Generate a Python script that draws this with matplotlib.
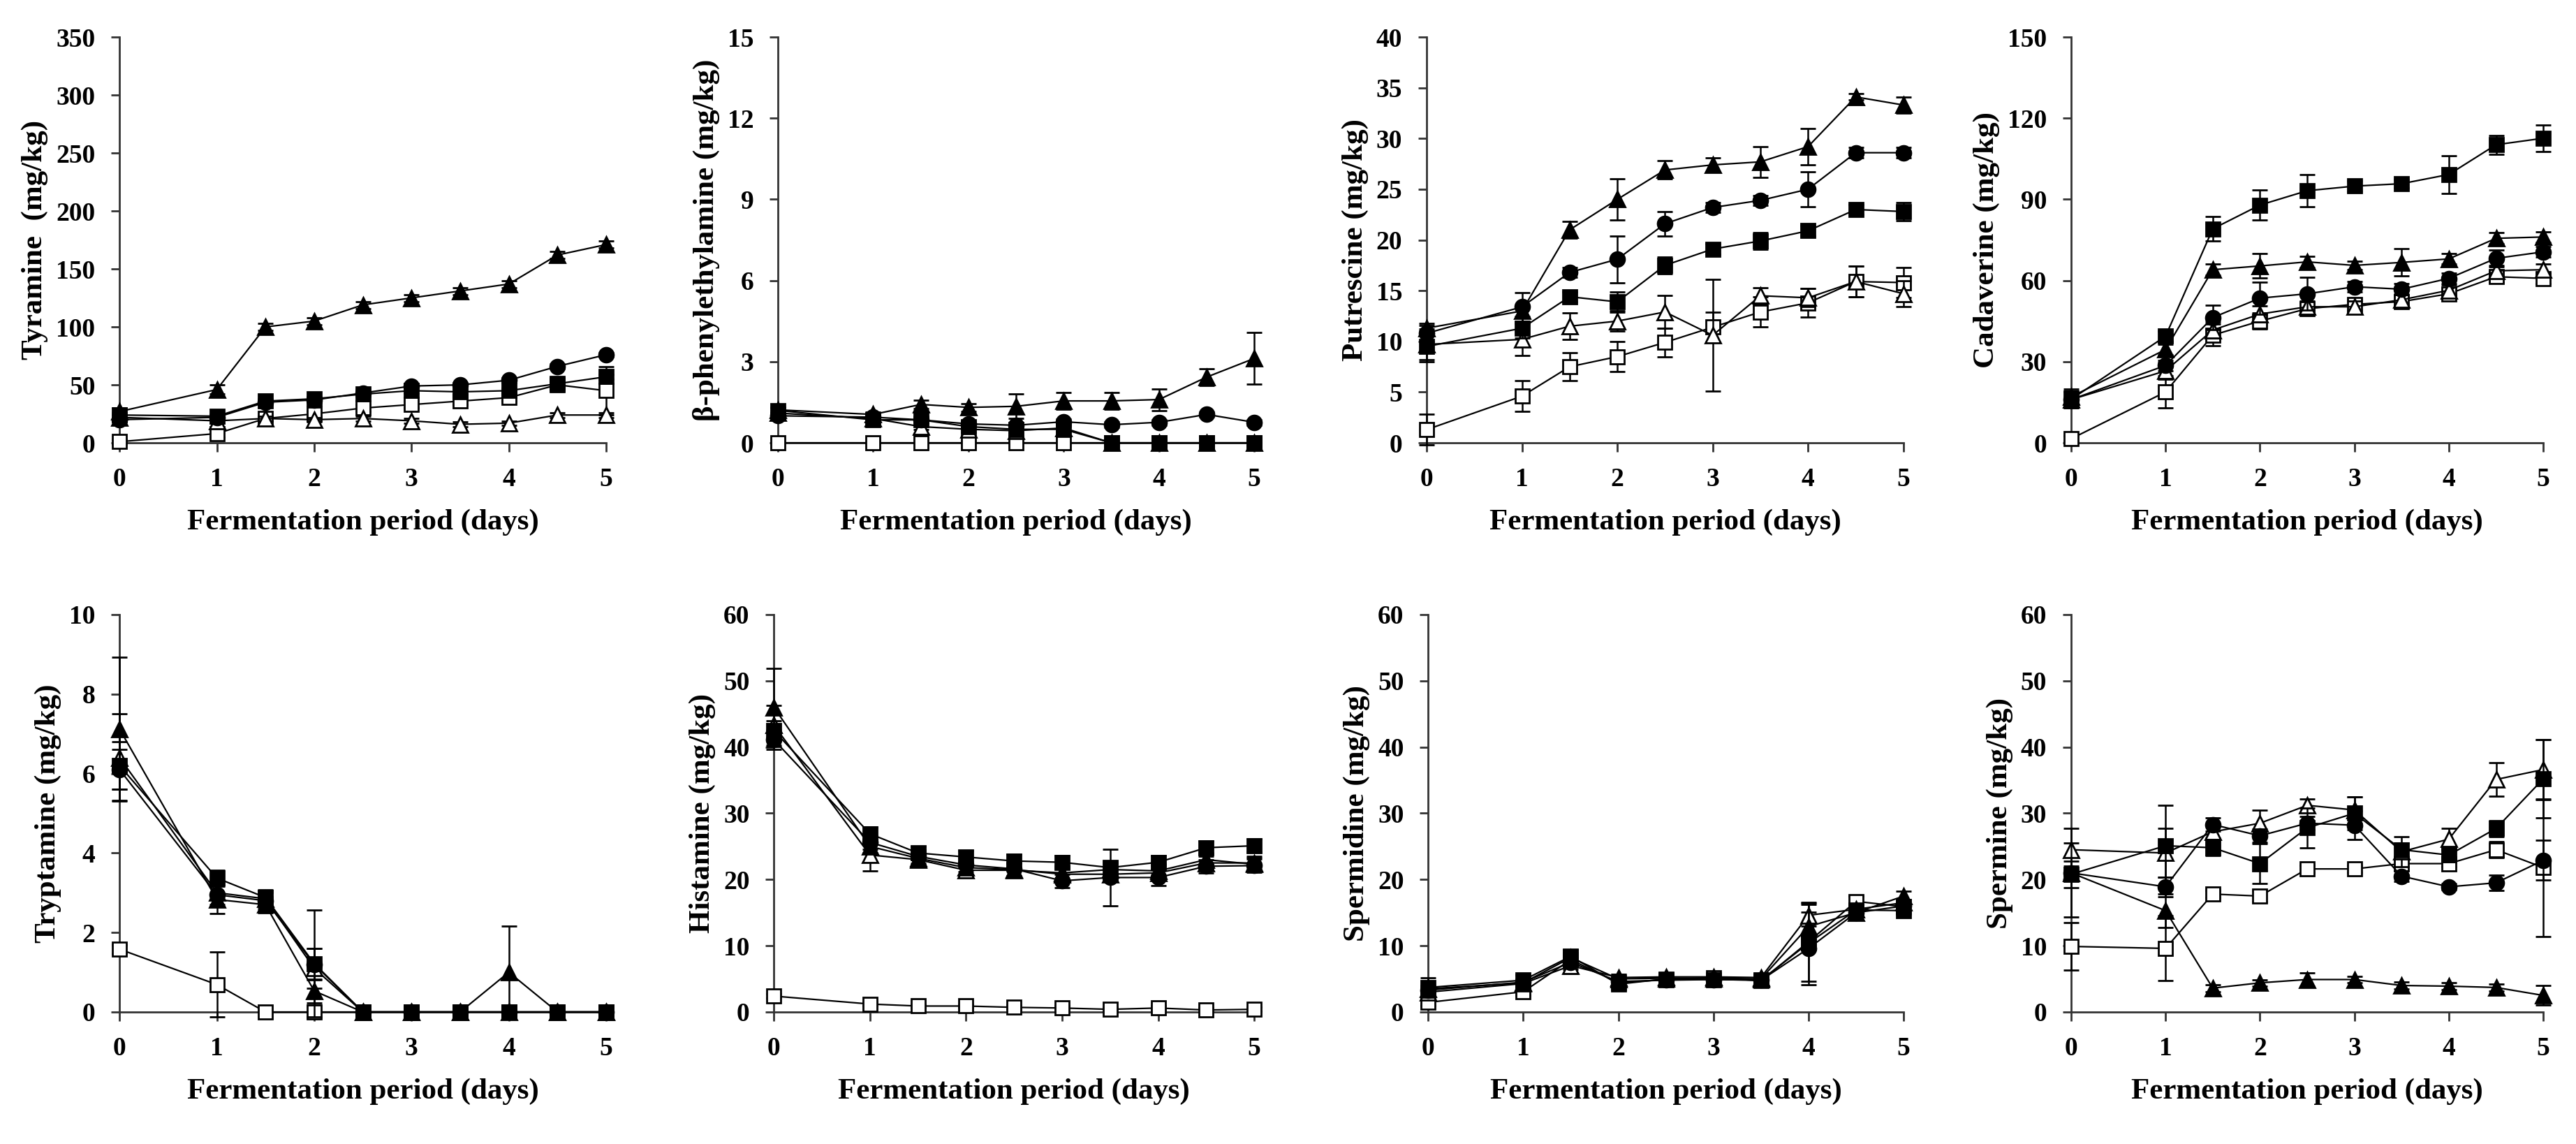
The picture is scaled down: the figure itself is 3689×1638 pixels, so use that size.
import matplotlib
matplotlib.use("Agg")
import matplotlib.pyplot as plt

plt.rcParams['font.family'] = ['Liberation Serif', 'DejaVu Serif']
plt.rcParams['font.weight'] = 'bold'

days = [0, 1, 1.5, 2, 2.5, 3, 3.5, 4, 4.5, 5]

# series order in every panel: open square, open triangle, circle, filled square, filled triangle
tyramine = [
    [1, 8, 21, 25, 30, 33, 36, 39, 50, 45],
    [22, 19, 21, 20, 21, 19, 16, 17, 24, 24],
    [20, 22, 35, 37, 43, 49, 50, 54, 66, 76],
    [24, 23, 36, 38, 42, 45, 44, 45, 51, 57],
    [27, 46, 100, 105, 119, 125, 131, 137, 162, 171],
]
tyramine_sd = [
    [2, 3, 2, 2, 3, 3, 3, 3, 4, 21],
    [2, 2, 2, 2, 2, 2, 2, 2, 2, 2],
    [2, 2, 2, 2, 2, 2, 2, 2, 2, 2],
    [2, 2, 2, 2, 2, 2, 2, 2, 2, 2],
    [3, 4, 3, 3, 3, 3, 3, 3, 3, 3],
]

phenylethylamine = [
    [0, 0, 0, 0, 0, 0, 0, 0, 0, 0],
    [1.1, 0.9, 0.6, 0.5, 0.45, 0.55, 0, 0, 0, 0],
    [1.0, 0.95, 0.85, 0.7, 0.65, 0.78, 0.67, 0.76, 1.05, 0.76],
    [1.2, 0.85, 0.85, 0.6, 0.5, 0.5, 0, 0, 0, 0],
    [1.22, 1.05, 1.42, 1.31, 1.35, 1.55, 1.55, 1.6, 2.43, 3.12],
]
phenylethylamine_sd = [
    [0, 0, 0, 0, 0, 0, 0, 0, 0, 0],
    [0.1, 0.1, 0.1, 0.1, 0.1, 0.1, 0, 0, 0, 0],
    [0.1, 0.1, 0.1, 0.1, 0.1, 0.1, 0.1, 0.1, 0.1, 0.1],
    [0.1, 0.1, 0.1, 0.1, 0.1, 0.1, 0, 0, 0, 0],
    [0.1, 0.1, 0.15, 0.15, 0.45, 0.3, 0.3, 0.4, 0.3, 0.95],
]

putrescine = [
    [1.3, 4.6, 7.5, 8.5, 9.9, 11.4, 12.9, 13.8, 15.9, 15.8],
    [9.7, 10.2, 11.5, 12.0, 12.9, 10.6, 14.5, 14.3, 15.9, 14.7],
    [10.8, 13.4, 16.8, 18.1, 21.6, 23.2, 23.9, 25.0, 28.6, 28.6],
    [9.5, 11.3, 14.4, 13.9, 17.5, 19.1, 19.9, 20.9, 23.0, 22.8],
    [11.3, 13.0, 21.0, 24.0, 26.9, 27.4, 27.7, 29.2, 34.1, 33.3],
]
putrescine_sd = [
    [1.5, 1.5, 1.4, 1.5, 1.4, 1.5, 1.5, 1.4, 1.5, 1.5],
    [1.5, 1.6, 1.3, 1.0, 1.6, 5.5, 0.8, 0.9, 1.5, 1.3],
    [0.8, 1.4, 0.5, 2.3, 1.2, 0.5, 0.5, 1.7, 0.5, 0.5],
    [1.5, 1.0, 0.5, 1.0, 0.8, 0.5, 0.8, 0.5, 0.5, 0.9],
    [0.5, 0.5, 0.8, 2.0, 0.9, 0.7, 1.5, 1.8, 0.3, 0.8],
]

cadaverine = [
    [1.5, 18.8, 39.8, 45.0, 49.6, 51.2, 52.2, 55.1, 61.4, 60.8],
    [16, 26.6, 41.7, 47.6, 50.3, 50.3, 52.9, 56.4, 63.6, 64.0],
    [16, 28.6, 46.3, 53.5, 55.1, 57.7, 56.8, 60.8, 68.2, 70.6],
    [16.1, 39.4, 79.1, 87.9, 93.2, 94.9, 95.8, 99.2, 110.2, 112.6],
    [17, 34.5, 64.0, 65.4, 66.9, 65.6, 66.7, 68.0, 75.6, 76.1],
]
cadaverine_sd = [
    [1, 6, 4, 3, 2, 2, 2, 2, 2, 2],
    [3, 3, 3, 3, 2, 2, 2, 2, 2, 2],
    [3, 2, 4.5, 6, 6, 2, 2, 2, 3, 2],
    [3, 2, 4.5, 5.5, 6, 2, 1.5, 7, 3.5, 5],
    [3, 2, 2, 4.5, 2, 1.5, 5, 2, 2, 2],
]

tryptamine = [
    [1.58, 0.69, 0, 0, 0, 0, 0, 0, 0, 0],
    [6.4, 3.0, 2.85, 1.1, 0, 0, 0, 0, 0, 0],
    [6.1, 2.95, 2.8, 1.2, 0, 0, 0, 0, 0, 0],
    [6.2, 3.37, 2.88, 1.22, 0, 0, 0, 0, 0, 0],
    [7.12, 2.83, 2.7, 0.53, 0, 0, 0, 1.0, 0, 0],
]
tryptamine_sd = [
    [0.1, 0.82, 0, 0, 0, 0, 0, 0, 0, 0],
    [1.1, 0.3, 0.2, 0.5, 0, 0, 0, 0, 0, 0],
    [0.5, 0.3, 0.2, 0.4, 0, 0, 0, 0, 0, 0],
    [0.6, 0.2, 0.2, 1.35, 0, 0, 0, 0, 0, 0],
    [1.8, 0.35, 0.2, 0.3, 0, 0, 0, 1.16, 0, 0],
]

histamine = [
    [2.4, 1.2, 0.9, 0.9, 0.7, 0.6, 0.4, 0.6, 0.3, 0.4],
    [43.3, 23.7, 23.0, 21.4, 21.4, 21.0, 21.5, 21.3, 23.0, 22.3],
    [41.1, 25.6, 23.5, 22.2, 21.6, 19.8, 20.3, 20.3, 22.0, 22.1],
    [42.5, 26.9, 24.0, 23.4, 22.8, 22.6, 21.8, 22.6, 24.8, 25.1],
    [46.0, 25.0, 23.2, 21.8, 21.5, 20.8, 20.8, 21.0, 22.5, 22.5],
]
histamine_sd = [
    [0.3, 0.3, 0.3, 0.3, 0.3, 0.3, 0.3, 0.3, 0.3, 0.3],
    [3, 2.4, 1, 1, 1, 1, 1, 1, 1, 1],
    [1.5, 1, 1, 1, 1, 1, 4.3, 1.2, 1, 1],
    [1.5, 1, 1, 1, 1, 1, 1, 1, 1, 1],
    [5.9, 1, 1, 1, 1, 1, 1, 1, 1, 1],
]

spermidine = [
    [1.45, 3.05, 7.9, 4.4, 4.9, 5.2, 4.7, 10.6, 16.7, 15.9],
    [3.0, 4.3, 7.0, 5.2, 5.3, 5.3, 5.2, 14.6, 15.5, 16.5],
    [3.3, 4.5, 7.5, 4.6, 4.8, 4.9, 4.8, 9.6, 15.0, 16.0],
    [3.7, 4.8, 8.4, 4.2, 5.0, 4.9, 4.8, 10.4, 15.4, 15.3],
    [3.5, 4.4, 8.2, 5.0, 5.1, 5.1, 5.0, 12.9, 15.0, 17.5],
]
spermidine_sd = [
    [0.5, 0.5, 1.5, 0.5, 0.5, 0.5, 0.5, 6, 0.8, 0.5],
    [0.5, 0.5, 1.2, 0.5, 0.5, 0.5, 0.5, 1.6, 0.5, 0.5],
    [0.5, 0.5, 0.8, 0.5, 0.5, 0.5, 0.5, 5.5, 0.5, 0.5],
    [1.5, 0.8, 1.0, 0.5, 0.5, 0.5, 0.5, 1, 0.5, 0.5],
    [0.5, 0.5, 1.0, 0.7, 0.7, 0.6, 0.6, 3.5, 0.5, 0.7],
]

spermine = [
    [9.9, 9.6, 17.8, 17.5, 21.6, 21.6, 22.4, 22.4, 24.5, 21.8],
    [24.5, 24.0, 27.2, 28.5, 31.2, 30.5, 24.2, 26.1, 35.1, 36.6],
    [21.0, 18.9, 28.3, 26.6, 28.5, 28.2, 20.5, 18.9, 19.5, 22.9],
    [20.8, 25.1, 24.8, 22.4, 27.8, 30.0, 24.5, 23.7, 27.7, 35.2],
    [21.0, 15.3, 3.6, 4.4, 4.9, 4.9, 4.0, 3.9, 3.7, 2.5],
]
spermine_sd = [
    [3.6, 4.9, 0.5, 0.8, 0.5, 0.5, 0.5, 0.5, 1.2, 10.4],
    [1, 3.7, 1, 2, 1, 2, 2.3, 1.6, 2.5, 4.5],
    [6.7, 1.5, 1, 1, 1, 2.2, 0.8, 0.5, 1.2, 3],
    [2, 6.1, 1.2, 3, 3, 2.5, 1, 1, 1.2, 5.9],
    [1, 2.5, 0.5, 0.5, 1, 0.5, 0.5, 0.5, 0.5, 1.5],
]

panels = [
    (tyramine, tyramine_sd, "Tyramine  (mg/kg)", 350, 50),
    (phenylethylamine, phenylethylamine_sd, "β-phenylethylamine (mg/kg)", 15, 3),
    (putrescine, putrescine_sd, "Putrescine (mg/kg)", 40, 5),
    (cadaverine, cadaverine_sd, "Cadaverine (mg/kg)", 150, 30),
    (tryptamine, tryptamine_sd, "Tryptamine (mg/kg)", 10, 2),
    (histamine, histamine_sd, "Histamine (mg/kg)", 60, 10),
    (spermidine, spermidine_sd, "Spermidine (mg/kg)", 60, 10),
    (spermine, spermine_sd, "Spermine (mg/kg)", 60, 10),
]

# axes boxes in figure fractions (left, bottom, width, height)
boxes = [
    (0.0464, 0.6129, 0.1889, 0.3547),
    (0.3020, 0.6129, 0.1849, 0.3547),
    (0.5538, 0.6129, 0.1851, 0.3547),
    (0.8040, 0.6129, 0.1833, 0.3547),
    (0.0464, 0.1154, 0.1889, 0.3474),
    (0.3004, 0.1154, 0.1865, 0.3474),
    (0.5544, 0.1154, 0.1846, 0.3474),
    (0.8040, 0.1154, 0.1833, 0.3474),
]

markers = ['s', '^', 'o', 's', '^']
faces = ['white', 'white', 'black', 'black', 'black']
sizes = [15, 16, 15, 15, 16]
draw_order = [0, 1, 2, 4, 3]

fig = plt.figure(figsize=(36.89, 16.38), dpi=100)

for (vals, sds, ylab, ymax, ystep), box in zip(panels, boxes):
    ax = fig.add_axes(box)
    for i in draw_order:
        eb = ax.errorbar(days, vals[i], yerr=sds[i], color='black', marker=markers[i],
                         mfc=faces[i], mec='black', mew=2, ms=sizes[i], lw=1.6,
                         elinewidth=1.8, capsize=8, capthick=2.2, zorder=3 + i * 0.2)
        for a in eb.lines[:1]:
            a.set_clip_on(False)
        for a in eb.lines[1]:
            a.set_clip_on(False)
        for a in eb.lines[2]:
            a.set_clip_on(False)
    ax.set_xlim(0, 5)
    ax.set_ylim(0, ymax)
    ax.set_xticks(range(0, 6))
    ax.set_yticks(range(0, ymax + 1, ystep))
    ax.spines['top'].set_visible(False)
    ax.spines['right'].set_visible(False)
    for s in ['left', 'bottom']:
        ax.spines[s].set_linewidth(2)
        ax.spines[s].set_color('#333333')
    ax.tick_params(direction='out', length=9, width=2, color='#333333',
                   labelsize=27, pad=16)
    ax.set_xlabel("Fermentation period (days)", fontsize=31, fontweight='bold', labelpad=18)
    ax.set_ylabel(ylab, fontsize=31, fontweight='bold', labelpad=8)

fig.savefig("out.png", dpi=100)
